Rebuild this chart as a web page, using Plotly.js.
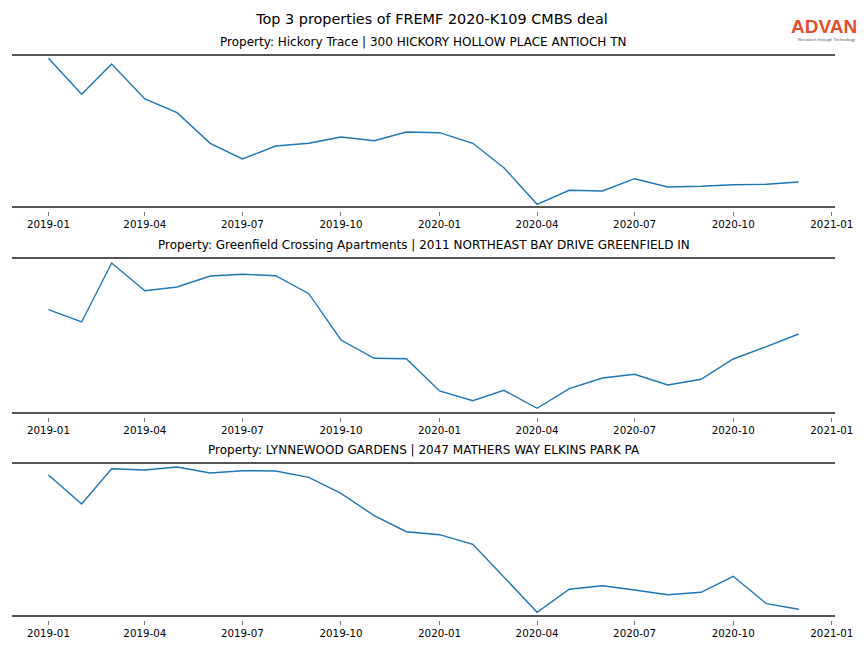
<!DOCTYPE html>
<html>
<head>
<meta charset="utf-8">
<script src="https://cdn.plot.ly/plotly-3.0.1.min.js"></script>
<style>html,body{margin:0;padding:0;background:#fff;}#chart{width:864px;height:648px;}</style>
</head>
<body>
<div id="chart"></div>
<script>
const months = ['2019-01','2019-02','2019-03','2019-04','2019-05','2019-06','2019-07','2019-08','2019-09','2019-10','2019-11','2019-12',
                '2020-01','2020-02','2020-03','2020-04','2020-05','2020-06','2020-07','2020-08','2020-09','2020-10','2020-11','2020-12'];
const hickoryTrace = [147.7,111.7,142,107,93.3,62.7,47,60,62.7,69,65.3,74,73.3,62.7,38.3,1.7,15.7,15,27.3,19,19.7,21.3,21.7,24];
const greenfieldCrossing = [102.3,90,149,121.3,125,136,137.7,136.3,118.3,72,53.7,53.3,21,11.3,21.7,3.7,23.3,34,37.7,27,32.7,53,65.3,78];
const lynnewoodGardens = [140,111,146.3,145,148,142,144.3,144,137.7,121.7,99.3,83.3,80.3,70.7,38,2.7,25.7,29.3,25,20.3,22.7,38.7,11.3,5.7];
const panelTitles = [
  'Property: Hickory Trace | 300 HICKORY HOLLOW PLACE ANTIOCH TN',
  'Property: Greenfield Crossing Apartments | 2011 NORTHEAST BAY DRIVE GREENFIELD IN',
  'Property: LYNNEWOOD GARDENS | 2047 MATHERS WAY ELKINS PARK PA'
];
const mainTitle = 'Top 3 properties of FREMF 2020-K109 CMBS deal';

const series = [hickoryTrace, greenfieldCrossing, lynnewoodGardens];
const yRanges = [[0,150],[0,153],[0,151]];
const H = 648;
const pix = [[56,206],[259,412],[464,615]];
const xDates = months.map(m => m + '-01');
const xRange = ['2018-11-28', '2021-01-04'];

const traces = series.map((s,i) => ({
  x: xDates, y: s, type: 'scatter', mode: 'lines',
  line: {color: '#1f77b4', width: 1.4},
  xaxis: i === 0 ? 'x' : 'x' + (i+1),
  yaxis: i === 0 ? 'y' : 'y' + (i+1),
  showlegend: false, hoverinfo: 'skip'
}));

const layout = {
  width: 864, height: 648,
  margin: {l: 12, r: 29, t: 0, b: 0},
  paper_bgcolor: '#fff', plot_bgcolor: '#fff',
  font: {family: 'DejaVu Sans', color: '#000'},
  annotations: [],
  showlegend: false
};

const fdom = p => [1 - p[1]/H, 1 - p[0]/H];

series.forEach((s,i) => {
  const n = i === 0 ? '' : String(i+1);
  const dom = fdom(pix[i]);
  layout['xaxis' + n] = {
    domain: [0,1], anchor: 'y' + n,
    type: 'date', range: xRange,
    tick0: '2019-01-01', dtick: 'M3', ticks: '', showticklabels: false,
    showline: true, mirror: true, linecolor: '#555', linewidth: 2.2,
    showgrid: false, zeroline: false, fixedrange: true
  };
  // detached tick marks + labels, a little below the frame line
  const tn = String(i+4);
  layout['xaxis' + tn] = {
    overlaying: 'x' + n, anchor: 'free', position: 1 - (pix[i][1] + 5)/H,
    domain: [0,1], type: 'date', range: xRange,
    tick0: '2019-01-01', dtick: 'M3', tickformat: '%Y-%m',
    ticks: 'outside', ticklen: 3.5, tickwidth: 0.8, tickcolor: '#555',
    tickfont: {family: 'DejaVu Sans', size: 10.3, color: '#000'},
    showline: false, showgrid: false, zeroline: false, fixedrange: true
  };
  layout['yaxis' + n] = {
    domain: dom, anchor: 'x' + n,
    range: yRanges[i], showticklabels: false, ticks: '',
    showgrid: false, zeroline: false, showline: false, fixedrange: true
  };
  layout.annotations.push({
    text: panelTitles[i], xref: 'paper', yref: 'paper',
    x: 0.5, y: dom[1], yshift: 5, xanchor: 'center', yanchor: 'bottom',
    showarrow: false, font: {family: 'DejaVu Sans', size: 12, color: '#000'}
  });
});

// dummy traces so the tick-only axes are drawn
[0,1,2].forEach(i => {
  traces.push({x: [xDates[0]], y: [null], type: 'scatter', mode: 'lines',
    xaxis: 'x' + (i+4), yaxis: i === 0 ? 'y' : 'y' + (i+1),
    showlegend: false, hoverinfo: 'skip'});
});

layout.title = {text: mainTitle, x: 0.5, xref: 'container', xanchor: 'center',
  y: 1 - 19/H, yref: 'container', yanchor: 'middle',
  font: {family: 'DejaVu Sans', size: 14.4, color: '#000'}};

layout.annotations.push({
  text: '<b>ADVAN</b>', xref: 'paper', yref: 'paper', x: (858-12)/823, y: 1 - 27/H,
  xanchor: 'right', yanchor: 'middle', showarrow: false, borderpad: 0,
  font: {family: 'Liberation Sans', size: 19, color: '#E4502B'}
});
layout.annotations.push({
  text: 'Research through Technology', xref: 'paper', yref: 'paper', x: (857-12)/823, y: 1 - 39/H,
  xanchor: 'right', yanchor: 'middle', showarrow: false, borderpad: 0,
  font: {family: 'Liberation Sans', size: 4.3, color: '#555'}
});

Plotly.newPlot('chart', traces, layout, {displayModeBar: false, staticPlot: true});
</script>
</body>
</html>
